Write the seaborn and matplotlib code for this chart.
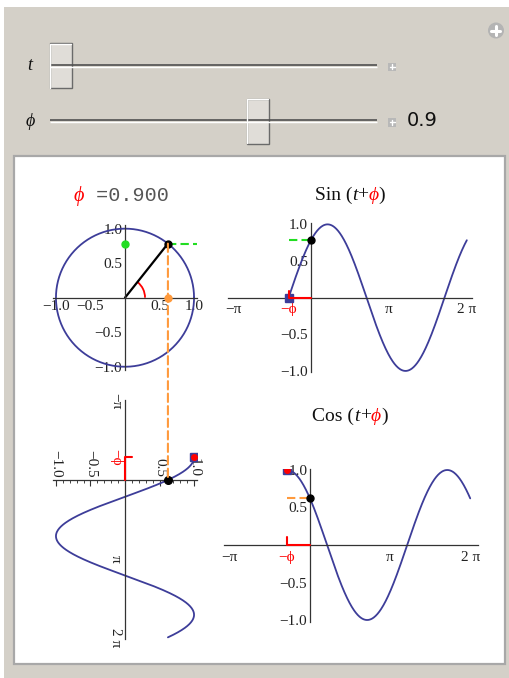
import numpy as np
import seaborn as sns
import matplotlib.pyplot as plt
from matplotlib.patches import Rectangle, Circle, ConnectionPatch, Arc
from matplotlib.offsetbox import TextArea, HPacker, AnnotationBbox
from matplotlib.ticker import MultipleLocator

# slider values
t_value = 0.0
phi = 0.9
t_range = [0.0, 2 * np.pi]
phi_range = [-np.pi, np.pi]

# tick positions / labels
val_ticks = [-1.0, -0.5, 0.5, 1.0]
val_labels = ["\u22121.0", "\u22120.5", "0.5", "1.0"]
t_ticks = [-np.pi, -phi, np.pi, 2 * np.pi]
t_labels = ["\u2212\u03c0", "\u2212\u03d5", "\u03c0", "2 \u03c0"]

# curve parameter
t = np.linspace(-phi, 2 * np.pi, 400)
theta = np.linspace(0, 2 * np.pi, 400)

BLUE = "#3d3d99"
GREEN = "#22dd22"
ORANGE = "#ff9a3c"
RED = "#ff0000"
DASH = (0, (4, 2))

sns.set_style("white")
plt.rcParams["font.family"] = ["Liberation Serif", "DejaVu Serif"]
plt.rcParams["axes.unicode_minus"] = True

fig = plt.figure(figsize=(5.1, 6.78), dpi=100)
W, H = 510, 678


def px_axes(left, top, w, h):
    return fig.add_axes([left / W, 1 - (top + h) / H, w / W, h / H], zorder=2)


def math_axes(ax, xlim, ylim, xminor=None, yminor=None):
    ax.set_xlim(xlim)
    ax.set_ylim(ylim)
    ax.patch.set_alpha(0)
    for s in ["top", "right", "left", "bottom"]:
        ax.spines[s].set_color("#333333")
        ax.spines[s].set_linewidth(0.9)
    ax.spines["top"].set_visible(False)
    ax.spines["right"].set_visible(False)
    ax.spines["left"].set_position(("data", 0))
    ax.spines["bottom"].set_position(("data", 0))
    ax.tick_params(direction="in", length=4, width=0.8, labelsize=11, pad=2,
                   colors="#333333", labelcolor="#222222")
    ax.tick_params(which="minor", direction="in", length=2, width=0.6)
    if xminor:
        ax.xaxis.set_minor_locator(MultipleLocator(xminor))
    if yminor:
        ax.yaxis.set_minor_locator(MultipleLocator(yminor))
    ax.grid(False)


# ---------- background panels and controls ----------
bg = fig.add_axes([0, 0, 1, 1], zorder=0)
bg.set_xlim(0, W)
bg.set_ylim(H, 0)
bg.axis("off")
bg.add_patch(Rectangle((4, 7), 506, 671, fc="#d4d0c8", ec="none"))
bg.add_patch(Rectangle((14.5, 155.5), 491, 508, fc="white", ec="#a8a8a8", lw=1.6))


def slider(y, value, vrange, label):
    bg.plot([50, 377], [y - 0.6, y - 0.6], color="#505050", lw=1.2, solid_capstyle="butt")
    bg.plot([50, 377], [y + 1.0, y + 1.0], color="white", lw=1.0, solid_capstyle="butt")
    frac = (value - vrange[0]) / (vrange[1] - vrange[0])
    cx = 61 + frac * (366.5 - 61)
    bg.add_patch(Rectangle((cx - 11, y - 22.5), 22, 45, fc="#e0ddd8", ec="#6a6a6a", lw=1.0))
    bg.plot([cx - 10.5, cx - 10.5, cx + 10.5], [y + 22, y - 22, y - 22], color="white", lw=1.0)
    bg.add_patch(Rectangle((388, y - 3), 8.5, 8.5, fc="#b8b8b8", ec="none"))
    bg.plot([389.8, 394.8], [y + 1.25, y + 1.25], color="white", lw=1.0)
    bg.plot([392.3, 392.3], [y - 1.25, y + 3.75], color="white", lw=1.0)
    bg.text(30, y, label, fontsize=13, style="italic", ha="center", va="center",
            color="#111111", family=["Liberation Serif", "DejaVu Serif"])


slider(65.5, t_value, t_range, "t")
slider(121, phi, phi_range, "\u03d5")
bg.text(407, 121, f"{phi:.1f}", fontsize=14, ha="left", va="center", color="#111111",
        family=["DejaVu Sans"])
bg.add_patch(Circle((496, 30.5), 8, fc="#b4b4b4", ec="none"))
bg.plot([491.5, 500.5], [30.5, 30.5], color="white", lw=2.2)
bg.plot([496, 496], [26, 35], color="white", lw=2.2)


def rich_title(x, y, parts, size):
    boxes = []
    for s, color, style, fam in parts:
        boxes.append(TextArea(s, textprops=dict(color=color, fontsize=size, style=style,
                                                family=fam)))
    pack = HPacker(children=boxes, align="baseline", pad=0, sep=0)
    ab = AnnotationBbox(pack, (x, y), xycoords=bg.transData, frameon=False,
                        box_alignment=(0.5, 0.5), zorder=3)
    bg.add_artist(ab)


SERIF = ["Liberation Serif", "DejaVu Serif"]
MONO = ["Liberation Mono", "DejaVu Sans Mono"]
rich_title(121, 196, [("\u03d5", RED, "italic", SERIF), (" =0.900", "#555555", "normal", MONO)], 14.5)
rich_title(350, 195, [("Sin (", "#111111", "normal", SERIF), ("t", "#111111", "italic", SERIF),
                      ("+", "#111111", "normal", SERIF), ("\u03d5", RED, "italic", SERIF),
                      (")", "#111111", "normal", SERIF)], 14)
rich_title(350, 416, [("Cos (", "#111111", "normal", SERIF), ("t", "#111111", "italic", SERIF),
                       ("+", "#111111", "normal", SERIF), ("\u03d5", RED, "italic", SERIF),
                       (")", "#111111", "normal", SERIF)], 14)

cp, sp = np.cos(phi), np.sin(phi)

# ---------- unit circle ----------
ax_c = px_axes(52.5, 225.2, 145, 145)
math_axes(ax_c, (-1.05, 1.05), (-1.05, 1.05), 0.1, 0.1)
sns.lineplot(x=np.cos(theta), y=np.sin(theta), sort=False, estimator=None, ax=ax_c,
             color=BLUE, lw=1.3)
ax_c.plot([0, cp], [0, sp], color="black", lw=1.6)
ax_c.add_patch(Arc((0, 0), 0.58, 0.58, theta1=0, theta2=np.degrees(phi), color=RED, lw=1.3))
ax_c.plot([cp, 1.05], [sp, sp], color=GREEN, lw=1.5, ls=DASH, clip_on=False)
ax_c.plot([0], [sp], "o", color=GREEN, ms=5, zorder=5)
ax_c.plot([cp], [0], "o", color=ORANGE, ms=5, zorder=5)
ax_c.plot([cp], [sp], "o", color="black", ms=5, zorder=6)
ax_c.set_xticks(val_ticks, val_labels)
ax_c.set_yticks(val_ticks, val_labels)

# ---------- sin plot ----------
ax_s = px_axes(228.3, 222.9, 243.4, 149.5)
math_axes(ax_s, (-3.33, 6.48), (-1.02, 1.02), None, 0.1)
sns.lineplot(x=t, y=np.sin(t + phi), ax=ax_s, color=BLUE, lw=1.3)
ax_s.plot([-phi, 0], [sp, sp], color=GREEN, lw=1.5, ls=DASH)
ax_s.plot([-phi], [0], "s", color=BLUE, ms=5.5, zorder=5)
ax_s.plot([-phi, -phi, 0], [0.09, 0, 0], color=RED, lw=1.5, zorder=6)
ax_s.plot([t_value], [sp], "o", color="black", ms=5, zorder=6)
ax_s.set_xticks(t_ticks, t_labels)
ax_s.set_yticks(val_ticks, val_labels)
ax_s.tick_params(axis="x", pad=4)
ax_s.get_xticklabels()[1].set_color(RED)

# ---------- cos plot ----------
ax_k = px_axes(224, 468.5, 254.3, 153)
math_axes(ax_k, (-3.37, 6.6), (-1.02, 1.02), None, 0.1)
sns.lineplot(x=t, y=np.cos(t + phi), ax=ax_k, color=BLUE, lw=1.3)
ax_k.plot([-phi, 0], [cp, cp], color=ORANGE, lw=1.5, ls=DASH)
ax_k.plot([-phi, -phi, 0], [0.11, 0, 0], color=RED, lw=1.5, zorder=6)
ax_k.plot([-phi], [1], "s", color=BLUE, ms=5.5, zorder=5)
ax_k.plot([-phi], [1], "o", color=RED, ms=4, zorder=6)
ax_k.plot([t_value], [cp], "o", color="black", ms=5, zorder=6)
ax_k.set_xticks(t_ticks, t_labels)
ax_k.set_yticks(val_ticks, val_labels)
ax_k.tick_params(axis="x", pad=4)
ax_k.get_xticklabels()[1].set_color(RED)

# ---------- rotated cos plot (t downwards) ----------
ax_r = px_axes(52.5, 400.0, 145, 238.6)
math_axes(ax_r, (-1.05, 1.05), (2 * np.pi + 0.05, -np.pi - 0.05), 0.1, None)
ax_r.spines["bottom"].set_visible(False)
ax_r.spines["top"].set_visible(True)
ax_r.spines["top"].set_position(("data", 0))
ax_r.xaxis.set_ticks_position("top")
sns.lineplot(x=np.cos(t + phi), y=t, sort=False, estimator=None, ax=ax_r, color=BLUE, lw=1.3)
ax_r.plot([0.1, 0, 0], [-phi, -phi, 0], color=RED, lw=1.5, zorder=6)
ax_r.plot([1], [-phi], "s", color=BLUE, ms=5.5, zorder=5)
ax_r.plot([1], [-phi], "o", color=RED, ms=4, zorder=6)
ax_r.plot([cp], [t_value], "o", color="black", ms=5.5, zorder=7)
ax_r.set_xticks(val_ticks, val_labels, rotation=-90)
ax_r.set_yticks(t_ticks, t_labels, rotation=-90, va="center")
ax_r.get_yticklabels()[1].set_color(RED)
ax_r.tick_params(axis="x", which="both", direction="in")

# orange projection line from the circle point down to the rotated plot
con = ConnectionPatch(xyA=(cp, sp), coordsA=ax_c.transData, xyB=(cp, 0), coordsB=ax_r.transData,
                      color=ORANGE, lw=1.5, ls=DASH, zorder=4)
fig.add_artist(con)

fig.savefig("out.png", dpi=100)
